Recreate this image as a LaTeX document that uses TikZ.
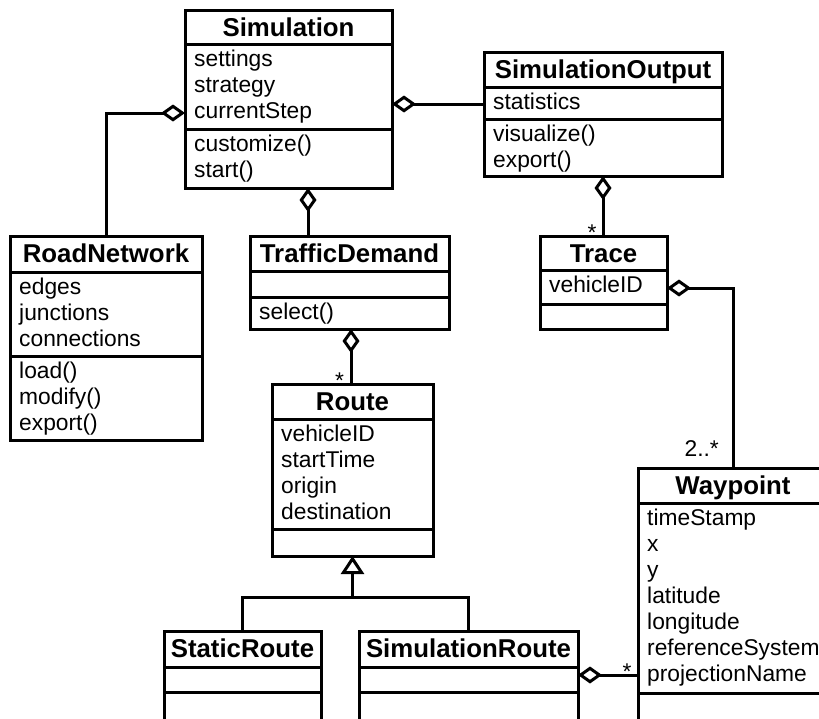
\documentclass[tikz,border=0pt]{standalone}
\usepackage{fontspec}
\setmainfont{Liberation Sans}
\usetikzlibrary{arrows.meta,calc}
\tikzset{
  clsbox/.style={draw, line width=3pt, rectangle, inner sep=0pt, outer sep=0pt, fill=white},
  sepline/.style={line width=3pt},
  ttl/.style={anchor=base, inner sep=0pt, font=\fontsize{25.8pt}{30pt}\selectfont\bfseries},
  txt/.style={anchor=base west, inner sep=0pt, font=\fontsize{22.8pt}{26pt}\selectfont},
  mult/.style={anchor=base, inner sep=0pt, font=\fontsize{22.8pt}{26pt}\selectfont},
  conn/.style={line width=3pt},
  aggr/.style={conn, arrows={Diamond[open, fill=white, length=24pt, width=17pt]-}},
  gen/.style={conn, arrows={-Triangle[open, fill=white, length=18pt, width=23pt]}},
}
\newcommand{\umlclass}[8]{%
  \node[clsbox, minimum width={(#4-#2)*1pt}, minimum height={(#5-#3)*1pt}] (#1) at ({(#2+#4)/2},{(#3+#5)/2}) {};
  \draw[sepline] (#2,#6) -- (#4,#6) (#2,#7) -- (#4,#7);
  \node[ttl] at ({(#2+#4)/2},{#3+26.5}) {#8};
}
\newcommand{\members}[3]{%
  \foreach \m [count=\i from 0] in {#3} \node[txt] at ({#1+9},{#2+26*\i}) {\m};
}
\begin{document}
\begin{tikzpicture}[x=1pt,y=-1pt]
\useasboundingbox (0,0) rectangle (819,718);
\clip (0,0) rectangle (819,718);

\umlclass{sim}{185}{10}{392}{188}{44}{129}{Simulation}
\umlclass{simout}{484}{52}{722}{176}{87}{119}{SimulationOutput}
\umlclass{road}{10}{236}{202}{440}{272}{356}{RoadNetwork}
\umlclass{td}{250}{236}{449}{329}{271}{297}{TrafficDemand}
\umlclass{trace}{540}{236}{667}{329}{270}{304}{Trace}
\umlclass{route}{272}{384}{433}{556}{419}{529}{Route}
\umlclass{static}{164}{631}{321}{724}{667}{692}{StaticRoute}
\umlclass{simroute}{359}{631}{578}{724}{667}{692}{SimulationRoute}
\umlclass{wp}{638}{468}{828}{724}{503}{693}{Waypoint}

\members{185}{66}{settings,strategy,currentStep}
\members{185}{151}{customize(),start()}
\members{484}{109}{statistics}
\members{484}{141}{visualize(),export()}
\members{10}{294}{edges,junctions,connections}
\members{10}{378}{load(),modify(),export()}
\members{250}{319}{select()}
\members{540}{292}{vehicleID}
\members{272}{441}{vehicleID,startTime,origin,destination}
\members{638}{525}{timeStamp,x,y,latitude,longitude,referenceSystem,projectionName}

\coordinate (c1) at ($(sim.north west)+(0,103)$);
\draw[aggr] (c1) -| (road.north);
\coordinate (c2) at ($(sim.north east)+(0,94)$);
\draw[aggr] (c2) -- (c2 -| simout.west);
\coordinate (c3) at ($(sim.south west)+(123,0)$);
\draw[aggr] (c3) -- (c3 |- td.north);
\draw[aggr] (simout.south) -- (simout.south |- trace.north);
\coordinate (c5) at ($(trace.north east)+(0,52)$);
\draw[aggr] (c5) -| (wp.north);
\coordinate (c6) at ($(td.south west)+(101,0)$);
\draw[aggr] (c6) -- (c6 |- route.north);
\coordinate (c7) at ($(route.south)+(0,41)$);
\draw[gen] (c7) -- (route.south);
\draw[conn] (static.north) |- (c7) -| (simroute.north);
\coordinate (c8) at ($(simroute.north east)+(0,44)$);
\draw[aggr] (c8) -- (c8 -| wp.west);

\node[mult] at (592,240) {*};
\node[mult] at (339.5,388.5) {*};
\node[mult] at (627,679) {*};
\node[mult, anchor=base east] at (719,456.5) {2..*};
\end{tikzpicture}
\end{document}
